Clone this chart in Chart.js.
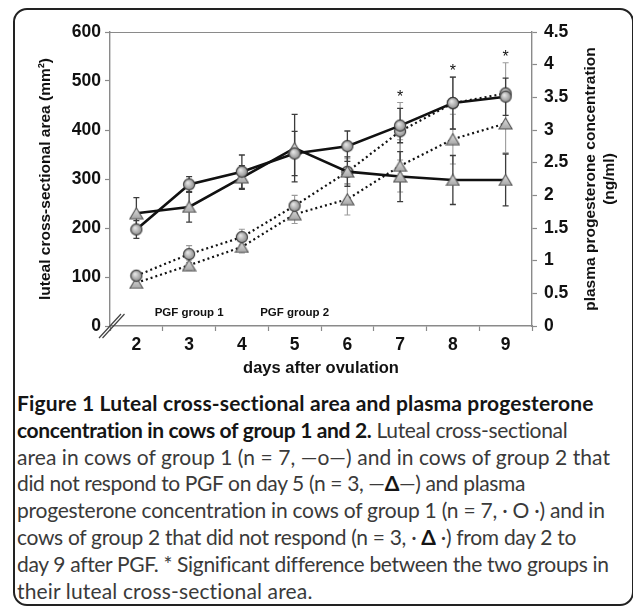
<!DOCTYPE html>
<html><head><meta charset="utf-8">
<script src="https://cdn.jsdelivr.net/npm/chart.js@4"></script>
<style>
html,body{margin:0;padding:0;background:#fff;width:633px;height:606px;overflow:hidden;}
#frame{position:absolute;left:13px;top:8px;width:621px;height:598px;border:2px solid #222;border-radius:14px;box-sizing:border-box;}
#wrap{position:absolute;left:0;top:0;width:633px;height:385px;}
#cap{position:absolute;left:17px;top:390px;font-family:Lato,'Open Sans',sans-serif;font-size:21px;line-height:26.8px;color:#3a3a3a;white-space:nowrap;}
#cap b{color:#151515;font-weight:700}
.ln{display:inline-block;}
</style></head>
<body>
<div id="frame"></div>
<div id="wrap"><canvas id="c"></canvas></div>
<div id="cap">
<span class="ln" data-w="596"><b>Figure 1 Luteal cross-sectional area and plasma progesterone</b></span><br>
<span class="ln" data-w="551"><b>concentration in cows of group 1 and 2.</b> Luteal cross-sectional</span><br>
<span class="ln" data-w="593">area in cows of group 1 (n = 7, —o—) and in cows of group 2 that</span><br>
<span class="ln" data-w="508">did not respond to PGF on day 5 (n = 3, —<b>Δ</b>—) and plasma</span><br>
<span class="ln" data-w="588">progesterone concentration in cows of group 1 (n = 7, · O ·) and in</span><br>
<span class="ln" data-w="559">cows of group 2 that did not respond (n = 3, · <b>Δ</b> ·) from day 2 to</span><br>
<span class="ln" data-w="590">day 9 after PGF. * Significant difference between the two groups in</span><br>
<span class="ln" data-w="325">their luteal cross-sectional area.</span>
</div>
<script>
// ---- data ----
const days = ['2','3','4','5','6','7','8','9'];
const areaGroup1 = [197, 289, 315, 352, 367, 409, 455, 468];
const areaGroup1Err = [18, 16, 34, 45, 31, 35, 53, 38];
const areaGroup2 = [230, 243, 303, 363, 315, 305, 298, 298];
const areaGroup2Err = [32, 31, 24, 69, 30, 51, 50, 53];
const p4Group1 = [0.77, 1.10, 1.36, 1.84, 2.36, 2.98, 3.41, 3.56];
const p4Group1Err = [0.05, 0.13, 0.12, 0.16, 0.20, 0.44, 0.40, 0.47];
const p4Group2 = [0.66, 0.93, 1.21, 1.71, 1.94, 2.45, 2.86, 3.10];
const p4Group2Err = [0.05, 0.08, 0.09, 0.14, 0.24, 0.40, 0.38, 0.45];
const significant = [false, false, false, false, false, true, true, true];
const pgfLabels = [{day:'3', text:'PGF group 1'}, {day:'5', text:'PGF group 2'}];
const leftTicks = {min:0, max:600, step:100};
const rightTicks = {min:0, max:4.5, step:0.5};

// ---- marker images ----
function circleImg(){
  const r=5.6, s=Math.ceil(r*2+2), c=document.createElement('canvas');
  c.width=s;c.height=s;const g=c.getContext('2d');
  const gr=g.createRadialGradient(s/2-1.5,s/2-1.8,0.5,s/2,s/2,r);
  gr.addColorStop(0,'#e6e6e6');gr.addColorStop(1,'#8c8c8c');
  g.beginPath();g.arc(s/2,s/2,r,0,Math.PI*2);g.fillStyle=gr;g.fill();
  g.lineWidth=1.1;g.strokeStyle='#3a3a3a';g.stroke();return c;
}
function triImg(){
  const w=13,h=11,c=document.createElement('canvas');c.width=w+2;c.height=h+2;
  const g=c.getContext('2d');const gr=g.createLinearGradient(0,1,0,h+1);
  gr.addColorStop(0,'#e0e0e0');gr.addColorStop(1,'#a6a6a6');
  g.beginPath();g.moveTo(1+w/2,1);g.lineTo(1+w,1+h);g.lineTo(1,1+h);g.closePath();
  g.fillStyle=gr;g.fill();g.lineWidth=1.1;g.strokeStyle='#555';g.stroke();return c;
}
const cImg=circleImg(), tImg=triImg();

const FONT='"Liberation Sans", Arial, sans-serif';

const errors = [
  {ds:0, err:areaGroup1Err, axis:'y', color:'#3c3c3c', w:1.3},
  {ds:1, err:areaGroup2Err, axis:'y', color:'#3c3c3c', w:1.3},
  {ds:2, err:p4Group1Err, axis:'y1', color:'#9a9a9a', w:1.1},
  {ds:3, err:p4Group2Err, axis:'y1', color:'#9a9a9a', w:1.1}
];

const extras = {
  id:'extras',
  beforeDatasetsDraw(chart){
    const ctx=chart.ctx, x=chart.scales.x;
    ctx.save();
    errors.slice().reverse().forEach(e=>{
      const data=chart.data.datasets[e.ds].data, sc=chart.scales[e.axis];
      ctx.strokeStyle=e.color;ctx.lineWidth=e.w;
      data.forEach((v,i)=>{
        const px=x.getPixelForValue(i), t=sc.getPixelForValue(v+e.err[i]), b=sc.getPixelForValue(v-e.err[i]);
        ctx.beginPath();ctx.moveTo(px,t);ctx.lineTo(px,b);
        ctx.moveTo(px-3,t);ctx.lineTo(px+3,t);ctx.moveTo(px-3,b);ctx.lineTo(px+3,b);ctx.stroke();
      });
    });
    ctx.restore();
  },
  afterDraw(chart){
    const ctx=chart.ctx, a=chart.chartArea, x=chart.scales.x;
    ctx.save();
    ctx.strokeStyle='#8a8a8a';ctx.lineWidth=1.2;
    ctx.beginPath();ctx.moveTo(a.left,a.top+0.5);ctx.lineTo(a.right,a.top+0.5);ctx.stroke();
    ctx.strokeStyle='#444';ctx.lineWidth=1.2;
    ctx.beginPath();ctx.moveTo(99,338);ctx.lineTo(121,314);ctx.moveTo(102.5,338);ctx.lineTo(124.5,314);ctx.stroke();
    ctx.fillStyle='#111';ctx.textAlign='center';ctx.textBaseline='middle';
    ctx.font='bold 16.5px '+FONT;
    ctx.fillText('days after ovulation',(a.left+a.right)/2,368);
    ctx.font='bold 15.5px '+FONT;
    ctx.save();ctx.translate(46,179);ctx.rotate(-Math.PI/2);ctx.fillText('luteal cross-sectional area (mm²)',0,0);ctx.restore();
    ctx.save();ctx.translate(591,179);ctx.rotate(-Math.PI/2);ctx.fillText('plasma progesterone concentration',0,0);ctx.restore();
    ctx.save();ctx.translate(610,179);ctx.rotate(-Math.PI/2);ctx.fillText('(ng/ml)',0,0);ctx.restore();
    ctx.font='bold 11.5px '+FONT;
    pgfLabels.forEach(p=>{ctx.fillText(p.text,x.getPixelForValue(days.indexOf(p.day)),a.bottom-13);});
    ctx.font='16px '+FONT;ctx.textBaseline='alphabetic';
    significant.forEach((s,i)=>{
      if(!s)return;
      let top=Infinity;
      errors.forEach(e=>{const v=chart.data.datasets[e.ds].data[i];top=Math.min(top,chart.scales[e.axis].getPixelForValue(v+e.err[i]));});
      ctx.fillText('*',x.getPixelForValue(i),top-10+9);
    });
    ctx.restore();
  }
};

const gridCommon = {drawOnChartArea:false, color:'#8a8a8a', tickLength:5, tickWidth:1.2};
const borderCommon = {color:'#8a8a8a', width:1.4};
const tickFont = {family:FONT, weight:'bold', size:17.5};

new Chart(document.getElementById('c'),{
  type:'line',
  data:{labels:days, datasets:[
    {data:areaGroup1, yAxisID:'y', borderColor:'#111', borderWidth:2.6, pointStyle:cImg, pointRadius:6, order:0, tension:0},
    {data:areaGroup2, yAxisID:'y', borderColor:'#111', borderWidth:2.6, pointStyle:tImg, pointRadius:6, order:1, tension:0},
    {data:p4Group1, yAxisID:'y1', borderColor:'#111', borderWidth:2.2, borderDash:[2,3], pointStyle:cImg, pointRadius:6, order:2, tension:0},
    {data:p4Group2, yAxisID:'y1', borderColor:'#111', borderWidth:2.2, borderDash:[2,3], pointStyle:tImg, pointRadius:6, order:3, tension:0}
  ]},
  options:{
    responsive:true, maintainAspectRatio:false, animation:false,
    layout:{padding:{top:32,left:0,right:0,bottom:0}},
    plugins:{legend:{display:false}, tooltip:{enabled:false}},
    scales:{
      x:{offset:true, grid:Object.assign({offset:true},gridCommon), border:borderCommon,
         ticks:{font:tickFont, color:'#111', padding:4, maxRotation:0},
         afterFit(s){s.height=59;}},
      y:{position:'left', min:leftTicks.min, max:leftTicks.max, grid:gridCommon, border:borderCommon,
         ticks:{stepSize:leftTicks.step, font:tickFont, color:'#111', padding:4},
         afterFit(s){s.width=110;}},
      y1:{position:'right', min:rightTicks.min, max:rightTicks.max, grid:gridCommon, border:borderCommon,
         ticks:{stepSize:rightTicks.step, font:tickFont, color:'#111', padding:7, callback:v=>String(Number(v))},
         afterFit(s){s.width=101;}}
    }
  },
  plugins:[extras]
});

function fitCaption(){
  document.querySelectorAll('.ln').forEach(el=>{
    el.style.letterSpacing='0px';
    const w=el.getBoundingClientRect().width, t=+el.dataset.w, n=el.textContent.length;
    const ls=Math.max(-1, Math.min(0.15, (t-w)/n));
    el.style.letterSpacing=ls+'px';
  });
}
fitCaption();
if(document.fonts&&document.fonts.ready)document.fonts.ready.then(fitCaption);
</script>
</body></html>
